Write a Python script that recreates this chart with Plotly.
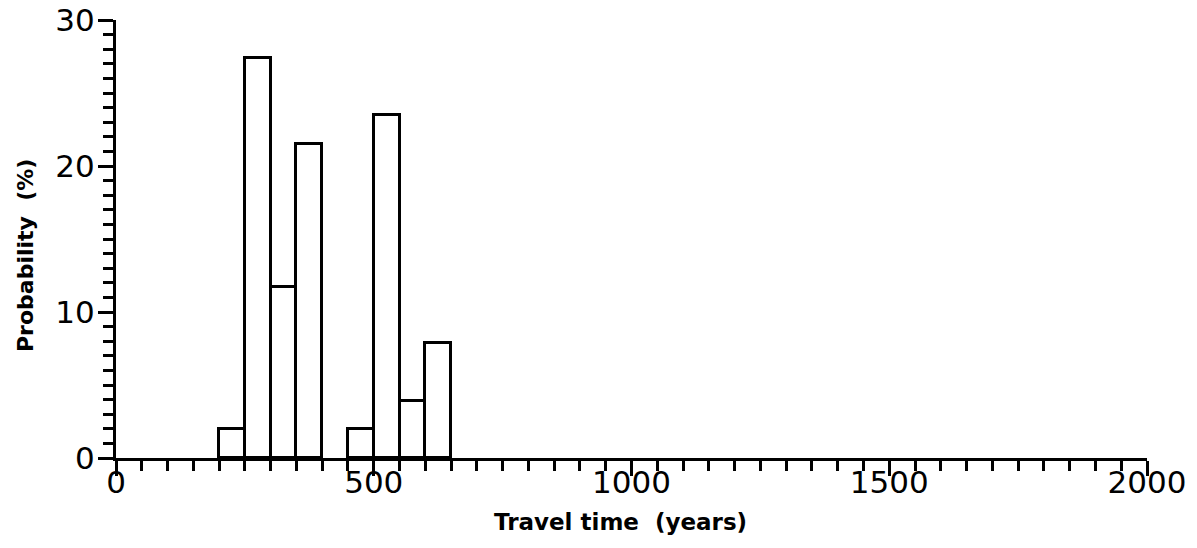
import plotly.graph_objects as go

# Histogram bins (left edge, years) and probabilities (%)
bin_starts = [200, 250, 300, 350, 450, 500, 550, 600]
probability = [2.0, 27.4, 11.7, 21.5, 2.0, 23.5, 3.9, 7.9]
bin_width = 50

x_tick_vals = [0, 500, 1000, 1500, 2000]
x_tick_text = ["0", "500", "1000", "1500", "2000"]
y_tick_vals = [0, 10, 20, 30]
y_tick_text = ["0", "10", "20", "30"]

fig = go.Figure()
fig.add_trace(go.Bar(
    x=bin_starts,
    y=probability,
    width=[bin_width] * len(bin_starts),
    offset=0,
    marker=dict(color="white", line=dict(color="black", width=3)),
    showlegend=False,
    hoverinfo="x+y",
))

font_fam = "DejaVu Sans, Lato, sans-serif"

fig.update_layout(
    width=1197, height=548,
    paper_bgcolor="white", plot_bgcolor="white",
    margin=dict(l=108, r=58, t=12, b=98),
    bargap=0,
    font=dict(family=font_fam, color="black"),
    xaxis=dict(
        range=[0, 2000], automargin=False,
        tickmode="array", tickvals=x_tick_vals, ticktext=x_tick_text,
        ticks="outside", ticklen=15, tickwidth=3, tickcolor="black",
        minor=dict(dtick=50, ticks="outside", ticklen=10, tickwidth=3, tickcolor="black", showgrid=False),
        showline=True, linecolor="black", linewidth=3,
        showgrid=False, zeroline=False,
        tickfont=dict(size=31, family=font_fam, color="black"),
        ticklabelstandoff=-20,
        ticklabeloverflow="allow",
    ),
    yaxis=dict(
        range=[0, 30], automargin=False,
        tickmode="array", tickvals=y_tick_vals, ticktext=y_tick_text,
        ticks="outside", ticklen=15, tickwidth=3, tickcolor="black",
        minor=dict(dtick=1, ticks="outside", ticklen=10, tickwidth=3, tickcolor="black", showgrid=False),
        showline=True, linecolor="black", linewidth=3,
        showgrid=False, zeroline=False,
        tickfont=dict(size=31, family=font_fam, color="black"),
        ticklabelstandoff=-3,
        ticklabeloverflow="allow",
    ),
    annotations=[
        dict(text="<b>Travel time  (years)</b>", xref="paper", yref="paper",
             x=(620 - 116) / (1147 - 116), y=-(522 - 458) / (458 - 20),
             xanchor="center", yanchor="middle",
             showarrow=False, font=dict(size=23, family=font_fam, color="black")),
        dict(text="<b>Probability  (%)</b>", xref="paper", yref="paper",
             x=(25 - 116) / (1147 - 116), y=(458 - 256) / (458 - 20),
             xanchor="center", yanchor="middle",
             textangle=-90, showarrow=False,
             font=dict(size=22, family=font_fam, color="black")),
    ],
)

fig.write_html("out.html")
